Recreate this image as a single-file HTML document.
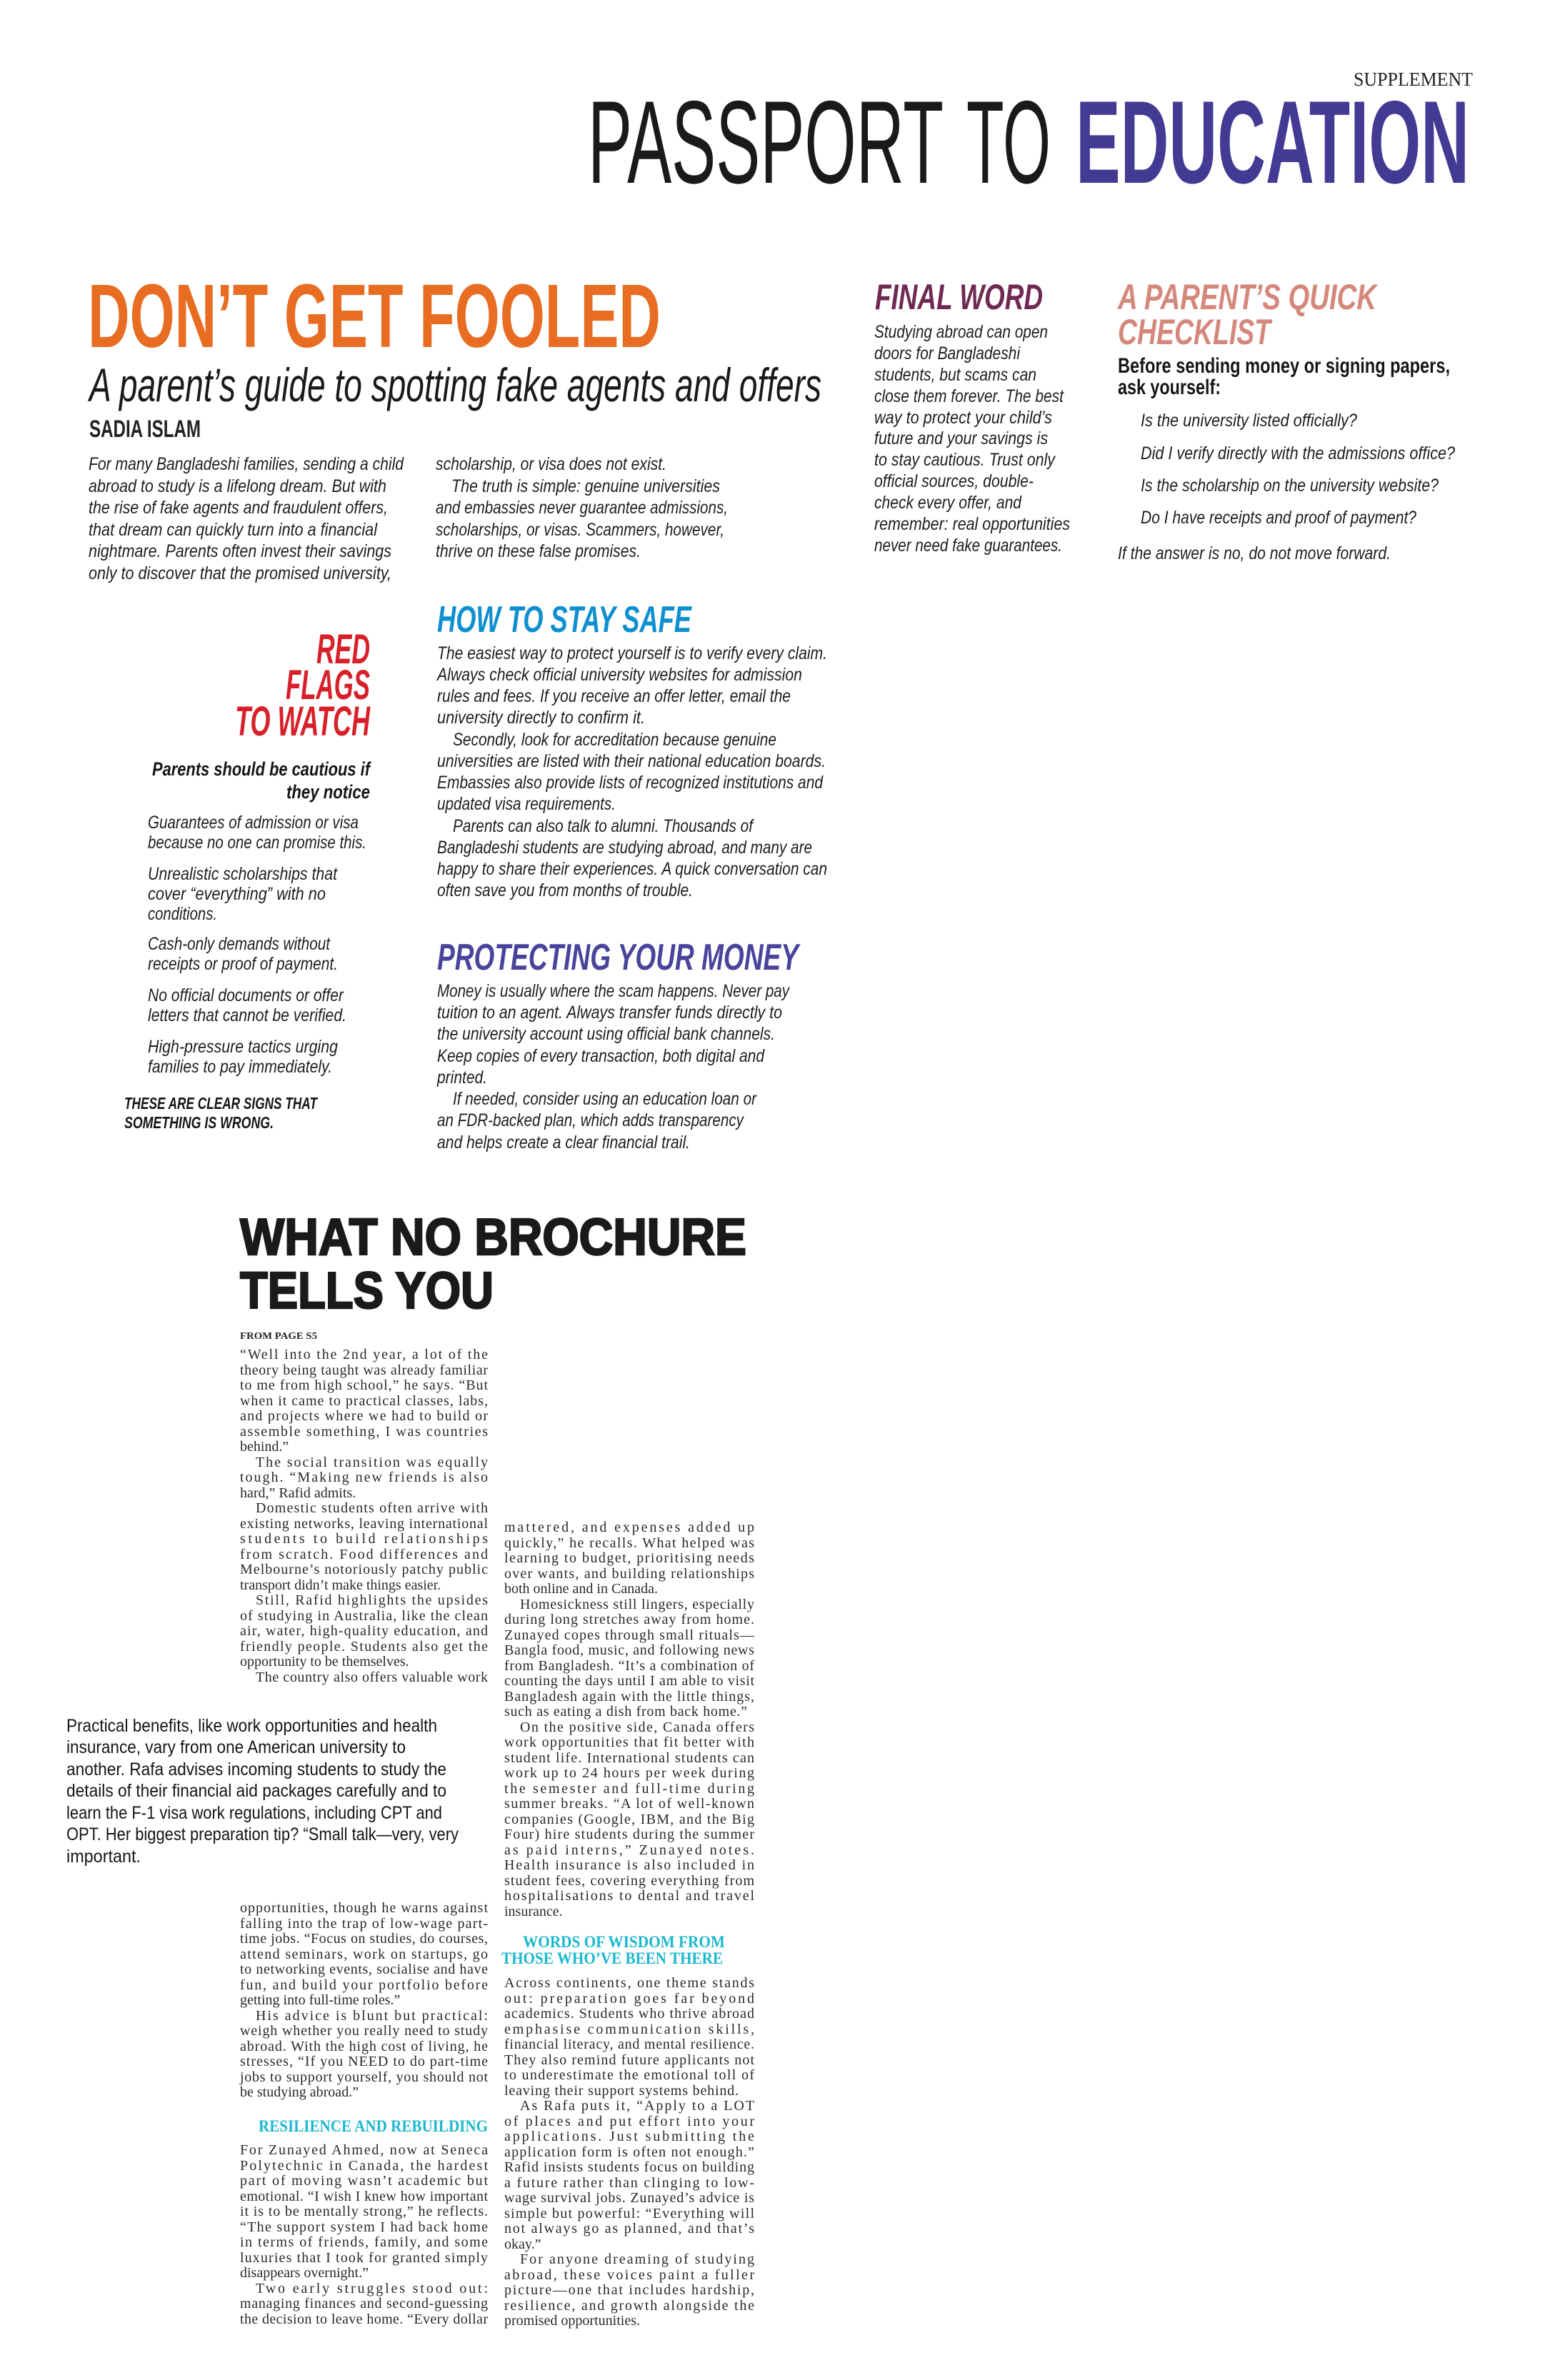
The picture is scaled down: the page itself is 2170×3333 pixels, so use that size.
<!DOCTYPE html>
<html><head><meta charset="utf-8">
<style>
html,body{margin:0;padding:0;background:#fff;}
svg{display:block;}
.c{font-family:"Liberation Sans",sans-serif;font-style:italic;font-size:25px;fill:#1e1e1e;}
.s{font-family:"Liberation Serif",serif;font-size:20px;fill:#2a2a2a;}
.h{font-family:"Liberation Sans",sans-serif;font-weight:bold;}
.hi{font-family:"Liberation Sans",sans-serif;font-weight:bold;font-style:italic;}
.sh{font-family:"Liberation Serif",serif;font-weight:bold;font-size:23px;fill:#1BB8CF;}
.pq{font-family:"Liberation Sans",sans-serif;font-size:25px;fill:#151515;}
</style></head>
<body>
<svg width="2170" height="3333" viewBox="0 0 2170 3333" xmlns="http://www.w3.org/2000/svg">
<rect width="2170" height="3333" fill="#fff"/>

<!-- Masthead -->
<text x="1895" y="120" font-family="Liberation Serif,serif" font-size="27" fill="#222" textLength="167" lengthAdjust="spacingAndGlyphs">SUPPLEMENT</text>
<text x="823" y="256" font-family="Liberation Sans,sans-serif" font-size="165" fill="#1a1a1a" textLength="498" lengthAdjust="spacingAndGlyphs">PASSPORT</text>
<text x="1353" y="256" font-family="Liberation Sans,sans-serif" font-size="165" fill="#1a1a1a" textLength="118" lengthAdjust="spacingAndGlyphs">TO</text>
<text x="1506" y="256" class="h" font-size="165" fill="#443A93" textLength="551" lengthAdjust="spacingAndGlyphs">EDUCATION</text>

<!-- Don't get fooled -->
<text x="123" y="486" class="h" font-size="126" fill="#E86C22" textLength="802" lengthAdjust="spacingAndGlyphs">DON’T GET FOOLED</text>
<text x="125" y="562" class="c" style="font-size:66px;fill:#1a1a1a" textLength="1025" lengthAdjust="spacingAndGlyphs">A parent’s guide to spotting fake agents and offers</text>
<text x="125" y="612" class="h" font-size="34" fill="#222" textLength="156" lengthAdjust="spacingAndGlyphs">SADIA ISLAM</text>

<g class="c">
<text x="124" y="658" textLength="441" lengthAdjust="spacingAndGlyphs">For many Bangladeshi families, sending a child</text>
<text x="124" y="689" textLength="417" lengthAdjust="spacingAndGlyphs">abroad to study is a lifelong dream. But with</text>
<text x="124" y="719" textLength="419" lengthAdjust="spacingAndGlyphs">the rise of fake agents and fraudulent offers,</text>
<text x="124" y="750" textLength="404" lengthAdjust="spacingAndGlyphs">that dream can quickly turn into a financial</text>
<text x="124" y="780" textLength="424" lengthAdjust="spacingAndGlyphs">nightmare. Parents often invest their savings</text>
<text x="124" y="811" textLength="424" lengthAdjust="spacingAndGlyphs">only to discover that the promised university,</text>

<text x="610" y="658" textLength="323" lengthAdjust="spacingAndGlyphs">scholarship, or visa does not exist.</text>
<text x="632" y="689" textLength="376" lengthAdjust="spacingAndGlyphs">The truth is simple: genuine universities</text>
<text x="610" y="719" textLength="409" lengthAdjust="spacingAndGlyphs">and embassies never guarantee admissions,</text>
<text x="610" y="750" textLength="404" lengthAdjust="spacingAndGlyphs">scholarships, or visas. Scammers, however,</text>
<text x="610" y="780" textLength="287" lengthAdjust="spacingAndGlyphs">thrive on these false promises.</text>
</g>

<!-- Final word -->
<text x="1225" y="433" class="hi" font-size="50" fill="#6E2A52" textLength="235" lengthAdjust="spacingAndGlyphs">FINAL WORD</text>
<g class="c">
<text x="1224" y="473" textLength="243" lengthAdjust="spacingAndGlyphs">Studying abroad can open</text>
<text x="1224" y="503" textLength="204" lengthAdjust="spacingAndGlyphs">doors for Bangladeshi</text>
<text x="1224" y="533" textLength="227" lengthAdjust="spacingAndGlyphs">students, but scams can</text>
<text x="1224" y="563" textLength="265" lengthAdjust="spacingAndGlyphs">close them forever. The best</text>
<text x="1224" y="593" textLength="249" lengthAdjust="spacingAndGlyphs">way to protect your child’s</text>
<text x="1224" y="622" textLength="243" lengthAdjust="spacingAndGlyphs">future and your savings is</text>
<text x="1224" y="652" textLength="253" lengthAdjust="spacingAndGlyphs">to stay cautious. Trust only</text>
<text x="1224" y="682" textLength="223" lengthAdjust="spacingAndGlyphs">official sources, double-</text>
<text x="1224" y="712" textLength="206" lengthAdjust="spacingAndGlyphs">check every offer, and</text>
<text x="1224" y="742" textLength="274" lengthAdjust="spacingAndGlyphs">remember: real opportunities</text>
<text x="1224" y="772" textLength="263" lengthAdjust="spacingAndGlyphs">never need fake guarantees.</text>
</g>

<!-- Checklist -->
<text x="1565" y="433" class="hi" font-size="50" fill="#D4877B" textLength="362" lengthAdjust="spacingAndGlyphs">A PARENT’S QUICK</text>
<text x="1565" y="482" class="hi" font-size="50" fill="#D4877B" textLength="214" lengthAdjust="spacingAndGlyphs">CHECKLIST</text>
<text x="1565" y="522" class="h" font-size="30" fill="#151515" textLength="465" lengthAdjust="spacingAndGlyphs">Before sending money or signing papers,</text>
<text x="1565" y="552" class="h" font-size="30" fill="#151515" textLength="144" lengthAdjust="spacingAndGlyphs">ask yourself:</text>
<g class="c">
<text x="1597" y="597" textLength="303" lengthAdjust="spacingAndGlyphs">Is the university listed officially?</text>
<text x="1597" y="643" textLength="440" lengthAdjust="spacingAndGlyphs">Did I verify directly with the admissions office?</text>
<text x="1597" y="688" textLength="417" lengthAdjust="spacingAndGlyphs">Is the scholarship on the university website?</text>
<text x="1597" y="733" textLength="386" lengthAdjust="spacingAndGlyphs">Do I have receipts and proof of payment?</text>
<text x="1565" y="783" textLength="382" lengthAdjust="spacingAndGlyphs">If the answer is no, do not move forward.</text>
</g>

<!-- Red flags -->
<g class="hi" font-size="58" fill="#D7202A" text-anchor="end">
<text x="518" y="929" textLength="75" lengthAdjust="spacingAndGlyphs">RED</text>
<text x="518" y="979" textLength="118" lengthAdjust="spacingAndGlyphs">FLAGS</text>
<text x="518" y="1030" textLength="189" lengthAdjust="spacingAndGlyphs">TO WATCH</text>
</g>
<text x="213" y="1086" class="hi" font-size="27" fill="#151515" textLength="305" lengthAdjust="spacingAndGlyphs">Parents should be cautious if</text>
<text x="401" y="1118" class="hi" font-size="27" fill="#151515" textLength="117" lengthAdjust="spacingAndGlyphs">they notice</text>
<g class="c">
<text x="207" y="1160" textLength="295" lengthAdjust="spacingAndGlyphs">Guarantees of admission or visa</text>
<text x="207" y="1188" textLength="306" lengthAdjust="spacingAndGlyphs">because no one can promise this.</text>
<text x="207" y="1232" textLength="265" lengthAdjust="spacingAndGlyphs">Unrealistic scholarships that</text>
<text x="207" y="1260" textLength="249" lengthAdjust="spacingAndGlyphs">cover “everything” with no</text>
<text x="207" y="1288" textLength="97" lengthAdjust="spacingAndGlyphs">conditions.</text>
<text x="207" y="1330" textLength="255" lengthAdjust="spacingAndGlyphs">Cash-only demands without</text>
<text x="207" y="1358" textLength="266" lengthAdjust="spacingAndGlyphs">receipts or proof of payment.</text>
<text x="207" y="1402" textLength="274" lengthAdjust="spacingAndGlyphs">No official documents or offer</text>
<text x="207" y="1430" textLength="278" lengthAdjust="spacingAndGlyphs">letters that cannot be verified.</text>
<text x="207" y="1474" textLength="266" lengthAdjust="spacingAndGlyphs">High-pressure tactics urging</text>
<text x="207" y="1502" textLength="258" lengthAdjust="spacingAndGlyphs">families to pay immediately.</text>
</g>
<text x="174" y="1553" class="hi" font-size="23" fill="#151515" textLength="270" lengthAdjust="spacingAndGlyphs">THESE ARE CLEAR SIGNS THAT</text>
<text x="174" y="1580" class="hi" font-size="23" fill="#151515" textLength="209" lengthAdjust="spacingAndGlyphs">SOMETHING IS WRONG.</text>

<!-- How to stay safe -->
<text x="612" y="885" class="hi" font-size="52" fill="#0E8FD0" textLength="356" lengthAdjust="spacingAndGlyphs">HOW TO STAY SAFE</text>
<g class="c">
<text x="612" y="923" textLength="546" lengthAdjust="spacingAndGlyphs">The easiest way to protect yourself is to verify every claim.</text>
<text x="612" y="953" textLength="511" lengthAdjust="spacingAndGlyphs">Always check official university websites for admission</text>
<text x="612" y="983" textLength="495" lengthAdjust="spacingAndGlyphs">rules and fees. If you receive an offer letter, email the</text>
<text x="612" y="1013" textLength="291" lengthAdjust="spacingAndGlyphs">university directly to confirm it.</text>
<text x="634" y="1044" textLength="453" lengthAdjust="spacingAndGlyphs">Secondly, look for accreditation because genuine</text>
<text x="612" y="1074" textLength="544" lengthAdjust="spacingAndGlyphs">universities are listed with their national education boards.</text>
<text x="612" y="1104" textLength="540" lengthAdjust="spacingAndGlyphs">Embassies also provide lists of recognized institutions and</text>
<text x="612" y="1134" textLength="250" lengthAdjust="spacingAndGlyphs">updated visa requirements.</text>
<text x="634" y="1165" textLength="420" lengthAdjust="spacingAndGlyphs">Parents can also talk to alumni. Thousands of</text>
<text x="612" y="1195" textLength="525" lengthAdjust="spacingAndGlyphs">Bangladeshi students are studying abroad, and many are</text>
<text x="612" y="1225" textLength="546" lengthAdjust="spacingAndGlyphs">happy to share their experiences. A quick conversation can</text>
<text x="612" y="1255" textLength="358" lengthAdjust="spacingAndGlyphs">often save you from months of trouble.</text>
</g>

<!-- Protecting your money -->
<text x="612" y="1358" class="hi" font-size="52" fill="#4A439C" textLength="506" lengthAdjust="spacingAndGlyphs">PROTECTING YOUR MONEY</text>
<g class="c">
<text x="612" y="1396" textLength="493" lengthAdjust="spacingAndGlyphs">Money is usually where the scam happens. Never pay</text>
<text x="612" y="1426" textLength="483" lengthAdjust="spacingAndGlyphs">tuition to an agent. Always transfer funds directly to</text>
<text x="612" y="1456" textLength="473" lengthAdjust="spacingAndGlyphs">the university account using official bank channels.</text>
<text x="612" y="1487" textLength="458" lengthAdjust="spacingAndGlyphs">Keep copies of every transaction, both digital and</text>
<text x="612" y="1517" textLength="70" lengthAdjust="spacingAndGlyphs">printed.</text>
<text x="634" y="1547" textLength="425" lengthAdjust="spacingAndGlyphs">If needed, consider using an education loan or</text>
<text x="612" y="1577" textLength="429" lengthAdjust="spacingAndGlyphs">an FDR-backed plan, which adds transparency</text>
<text x="612" y="1608" textLength="354" lengthAdjust="spacingAndGlyphs">and helps create a clear financial trail.</text>
</g>

<!-- What no brochure -->
<text x="336" y="1757" class="h" font-size="72" fill="#1a1a1a" stroke="#1a1a1a" stroke-width="2.5" textLength="709" lengthAdjust="spacingAndGlyphs">WHAT NO BROCHURE</text>
<text x="336" y="1832" class="h" font-size="72" fill="#1a1a1a" stroke="#1a1a1a" stroke-width="2.5" textLength="355" lengthAdjust="spacingAndGlyphs">TELLS YOU</text>
<text x="336" y="1875" font-family="Liberation Serif,serif" font-weight="bold" font-size="14" fill="#222" textLength="108" lengthAdjust="spacingAndGlyphs">FROM PAGE  S5</text>

<g class="s">
<!-- Col A part 1 -->
<text x="336" y="1903" textLength="347" lengthAdjust="spacing">“Well into the 2nd year, a lot of the</text>
<text x="336" y="1925" textLength="347" lengthAdjust="spacing">theory being taught was already familiar</text>
<text x="336" y="1946" textLength="347" lengthAdjust="spacing">to me from high school,” he says. “But</text>
<text x="336" y="1968" textLength="347" lengthAdjust="spacing">when it came to practical classes, labs,</text>
<text x="336" y="1989" textLength="347" lengthAdjust="spacing">and projects where we had to build or</text>
<text x="336" y="2011" textLength="347" lengthAdjust="spacing">assemble something, I was countries</text>
<text x="336" y="2032">behind.”</text>
<text x="358" y="2054" textLength="325" lengthAdjust="spacing">The social transition was equally</text>
<text x="336" y="2075" textLength="347" lengthAdjust="spacing">tough. “Making new friends is also</text>
<text x="336" y="2097">hard,” Rafid admits.</text>
<text x="358" y="2118" textLength="325" lengthAdjust="spacing">Domestic students often arrive with</text>
<text x="336" y="2140" textLength="347" lengthAdjust="spacing">existing networks, leaving international</text>
<text x="336" y="2161" textLength="347" lengthAdjust="spacing">students to build relationships</text>
<text x="336" y="2183" textLength="347" lengthAdjust="spacing">from scratch. Food differences and</text>
<text x="336" y="2204" textLength="347" lengthAdjust="spacing">Melbourne’s notoriously patchy public</text>
<text x="336" y="2226">transport didn’t make things easier.</text>
<text x="358" y="2247" textLength="325" lengthAdjust="spacing">Still, Rafid highlights the upsides</text>
<text x="336" y="2269" textLength="347" lengthAdjust="spacing">of studying in Australia, like the clean</text>
<text x="336" y="2290" textLength="347" lengthAdjust="spacing">air, water, high-quality education, and</text>
<text x="336" y="2312" textLength="347" lengthAdjust="spacing">friendly people. Students also get the</text>
<text x="336" y="2333">opportunity to be themselves.</text>
<text x="358" y="2355" textLength="325" lengthAdjust="spacing">The country also offers valuable work</text>

<!-- Col B part 1 -->
<text x="706" y="2145" textLength="350" lengthAdjust="spacing">mattered, and expenses added up</text>
<text x="706" y="2167" textLength="350" lengthAdjust="spacing">quickly,” he recalls. What helped was</text>
<text x="706" y="2188" textLength="350" lengthAdjust="spacing">learning to budget, prioritising needs</text>
<text x="706" y="2210" textLength="350" lengthAdjust="spacing">over wants, and building relationships</text>
<text x="706" y="2231">both online and in Canada.</text>
<text x="728" y="2253" textLength="328" lengthAdjust="spacing">Homesickness still lingers, especially</text>
<text x="706" y="2274" textLength="350" lengthAdjust="spacing">during long stretches away from home.</text>
<text x="706" y="2296" textLength="350" lengthAdjust="spacing">Zunayed copes through small rituals—</text>
<text x="706" y="2317" textLength="350" lengthAdjust="spacing">Bangla food, music, and following news</text>
<text x="706" y="2339" textLength="350" lengthAdjust="spacing">from Bangladesh. “It’s a combination of</text>
<text x="706" y="2360" textLength="350" lengthAdjust="spacing">counting the days until I am able to visit</text>
<text x="706" y="2382" textLength="350" lengthAdjust="spacing">Bangladesh again with the little things,</text>
<text x="706" y="2403" textLength="340" lengthAdjust="spacing">such as eating a dish from back home.”</text>
<text x="728" y="2425" textLength="328" lengthAdjust="spacing">On the positive side, Canada offers</text>
<text x="706" y="2446" textLength="350" lengthAdjust="spacing">work opportunities that fit better with</text>
<text x="706" y="2468" textLength="350" lengthAdjust="spacing">student life. International students can</text>
<text x="706" y="2489" textLength="350" lengthAdjust="spacing">work up to 24 hours per week during</text>
<text x="706" y="2511" textLength="350" lengthAdjust="spacing">the semester and full-time during</text>
<text x="706" y="2532" textLength="350" lengthAdjust="spacing">summer breaks. “A lot of well-known</text>
<text x="706" y="2554" textLength="350" lengthAdjust="spacing">companies (Google, IBM, and the Big</text>
<text x="706" y="2575" textLength="350" lengthAdjust="spacing">Four) hire students during the summer</text>
<text x="706" y="2597" textLength="350" lengthAdjust="spacing">as paid interns,” Zunayed notes.</text>
<text x="706" y="2618" textLength="350" lengthAdjust="spacing">Health insurance is also included in</text>
<text x="706" y="2640" textLength="350" lengthAdjust="spacing">student fees, covering everything from</text>
<text x="706" y="2661" textLength="350" lengthAdjust="spacing">hospitalisations to dental and travel</text>
<text x="706" y="2683">insurance.</text>

<!-- Col A part 2 -->
<text x="336" y="2678" textLength="347" lengthAdjust="spacing">opportunities, though he warns against</text>
<text x="336" y="2700" textLength="347" lengthAdjust="spacing">falling into the trap of low-wage part-</text>
<text x="336" y="2721" textLength="347" lengthAdjust="spacing">time jobs. “Focus on studies, do courses,</text>
<text x="336" y="2743" textLength="347" lengthAdjust="spacing">attend seminars, work on startups, go</text>
<text x="336" y="2764" textLength="347" lengthAdjust="spacing">to networking events, socialise and have</text>
<text x="336" y="2786" textLength="347" lengthAdjust="spacing">fun, and build your portfolio before</text>
<text x="336" y="2807">getting into full-time roles.”</text>
<text x="358" y="2829" textLength="325" lengthAdjust="spacing">His advice is blunt but practical:</text>
<text x="336" y="2850" textLength="347" lengthAdjust="spacing">weigh whether you really need to study</text>
<text x="336" y="2872" textLength="347" lengthAdjust="spacing">abroad. With the high cost of living, he</text>
<text x="336" y="2893" textLength="347" lengthAdjust="spacing">stresses, “If you NEED to do part-time</text>
<text x="336" y="2915" textLength="347" lengthAdjust="spacing">jobs to support yourself, you should not</text>
<text x="336" y="2936">be studying abroad.”</text>

<!-- Col A part 3 -->
<text x="336" y="3017" textLength="347" lengthAdjust="spacing">For Zunayed Ahmed, now at Seneca</text>
<text x="336" y="3039" textLength="347" lengthAdjust="spacing">Polytechnic in Canada, the hardest</text>
<text x="336" y="3060" textLength="347" lengthAdjust="spacing">part of moving wasn’t academic but</text>
<text x="336" y="3082" textLength="347" lengthAdjust="spacing">emotional. “I wish I knew how important</text>
<text x="336" y="3103" textLength="347" lengthAdjust="spacing">it is to be mentally strong,” he reflects.</text>
<text x="336" y="3125" textLength="347" lengthAdjust="spacing">“The support system I had back home</text>
<text x="336" y="3146" textLength="347" lengthAdjust="spacing">in terms of friends, family, and some</text>
<text x="336" y="3168" textLength="347" lengthAdjust="spacing">luxuries that I took for granted simply</text>
<text x="336" y="3189">disappears overnight.”</text>
<text x="358" y="3211" textLength="325" lengthAdjust="spacing">Two early struggles stood out:</text>
<text x="336" y="3232" textLength="347" lengthAdjust="spacing">managing finances and second-guessing</text>
<text x="336" y="3254" textLength="347" lengthAdjust="spacing">the decision to leave home. “Every dollar</text>

<!-- Col B part 2 -->
<text x="706" y="2783" textLength="350" lengthAdjust="spacing">Across continents, one theme stands</text>
<text x="706" y="2805" textLength="350" lengthAdjust="spacing">out: preparation goes far beyond</text>
<text x="706" y="2826" textLength="350" lengthAdjust="spacing">academics. Students who thrive abroad</text>
<text x="706" y="2848" textLength="350" lengthAdjust="spacing">emphasise communication skills,</text>
<text x="706" y="2869" textLength="350" lengthAdjust="spacing">financial literacy, and mental resilience.</text>
<text x="706" y="2891" textLength="350" lengthAdjust="spacing">They also remind future applicants not</text>
<text x="706" y="2912" textLength="350" lengthAdjust="spacing">to underestimate the emotional toll of</text>
<text x="706" y="2934" textLength="328" lengthAdjust="spacing">leaving their support systems behind.</text>
<text x="728" y="2955" textLength="328" lengthAdjust="spacing">As Rafa puts it, “Apply to a LOT</text>
<text x="706" y="2977" textLength="350" lengthAdjust="spacing">of places and put effort into your</text>
<text x="706" y="2998" textLength="350" lengthAdjust="spacing">applications. Just submitting the</text>
<text x="706" y="3020" textLength="350" lengthAdjust="spacing">application form is often not enough.”</text>
<text x="706" y="3041" textLength="350" lengthAdjust="spacing">Rafid insists students focus on building</text>
<text x="706" y="3063" textLength="350" lengthAdjust="spacing">a future rather than clinging to low-</text>
<text x="706" y="3084" textLength="350" lengthAdjust="spacing">wage survival jobs. Zunayed’s advice is</text>
<text x="706" y="3106" textLength="350" lengthAdjust="spacing">simple but powerful: “Everything will</text>
<text x="706" y="3127" textLength="350" lengthAdjust="spacing">not always go as planned, and that’s</text>
<text x="706" y="3149">okay.”</text>
<text x="728" y="3170" textLength="328" lengthAdjust="spacing">For anyone dreaming of studying</text>
<text x="706" y="3192" textLength="350" lengthAdjust="spacing">abroad, these voices paint a fuller</text>
<text x="706" y="3213" textLength="350" lengthAdjust="spacing">picture—one that includes hardship,</text>
<text x="706" y="3235" textLength="350" lengthAdjust="spacing">resilience, and growth alongside the</text>
<text x="706" y="3256">promised opportunities.</text>
</g>

<!-- Subheads -->
<text x="362" y="2985" class="sh" textLength="321" lengthAdjust="spacingAndGlyphs">RESILIENCE AND REBUILDING</text>
<text x="732" y="2727" class="sh" textLength="283" lengthAdjust="spacingAndGlyphs">WORDS OF WISDOM FROM</text>
<text x="702" y="2750" class="sh" textLength="310" lengthAdjust="spacingAndGlyphs">THOSE WHO’VE BEEN THERE</text>

<!-- Pull quote -->
<g class="pq">
<text x="93" y="2425" textLength="519" lengthAdjust="spacingAndGlyphs">Practical benefits, like work opportunities and health</text>
<text x="93" y="2455" textLength="475" lengthAdjust="spacingAndGlyphs">insurance, vary from one American university to</text>
<text x="93" y="2486" textLength="532" lengthAdjust="spacingAndGlyphs">another. Rafa advises incoming students to study the</text>
<text x="93" y="2516" textLength="532" lengthAdjust="spacingAndGlyphs">details of their financial aid packages carefully and to</text>
<text x="93" y="2547" textLength="526" lengthAdjust="spacingAndGlyphs">learn the F-1 visa work regulations, including CPT and</text>
<text x="93" y="2577" textLength="549" lengthAdjust="spacingAndGlyphs">OPT. Her biggest preparation tip? “Small talk—very, very</text>
<text x="93" y="2608" textLength="104" lengthAdjust="spacingAndGlyphs">important.</text>
</g>
</svg>
</body></html>
